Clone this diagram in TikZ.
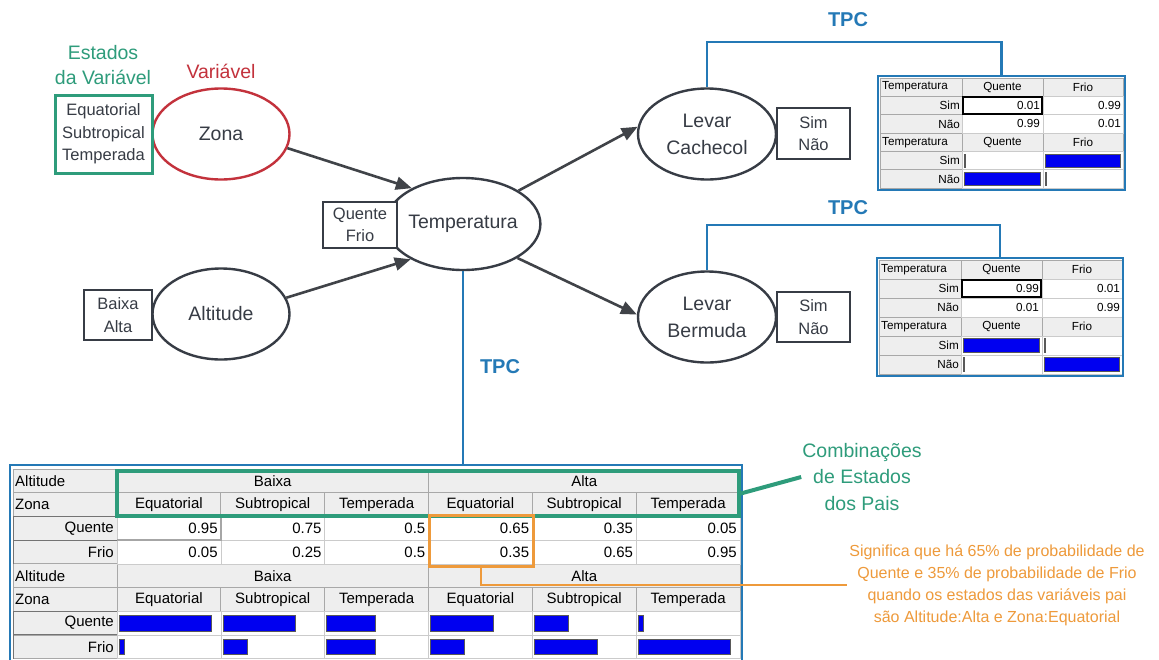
\documentclass[tikz,border=0pt]{standalone}
\usepackage{fontspec}
\setmainfont{Liberation Sans}
\usetikzlibrary{shapes.geometric,arrows.meta}

\definecolor{ink}{HTML}{373C45}
\definecolor{linkgray}{HTML}{404348}
\definecolor{tpcblue}{HTML}{2479B6}
\definecolor{stategreen}{HTML}{2E9C7B}
\definecolor{varred}{HTML}{C3323C}
\definecolor{noteorange}{HTML}{EE9A3B}
\definecolor{hdrgray}{HTML}{EEEEEE}
\definecolor{gridline}{HTML}{A8A8A8}
\definecolor{barblue}{HTML}{0000F0}

% Conditional probability table of a two-state child with parent Temperatura
\newcommand\cptable[8]{%
  \begin{scope}[shift={(#2,#3)}]
    \def\rh{#4}
    \foreach \r in {0,3}{
      \draw[hdr] (0,{\r*\rh}) rectangle (82,{(\r+1)*\rh});
      \draw[hdr] (82,{\r*\rh}) rectangle (163,{(\r+1)*\rh});
      \draw[hdr] (163,{\r*\rh}) rectangle (243,{(\r+1)*\rh});
      \node[tt,anchor=west] (#1-a\r) at (1,{(\r+.5)*\rh}) {Temperatura};
      \node[tt] (#1-b\r) at (122.5,{(\r+.5)*\rh}) {Quente};
      \node[tt] (#1-c\r) at (203,{(\r+.5)*\rh}) {Frio};
    }
    \foreach \r/\lab in {1/Sim,2/Não,4/Sim,5/Não}{
      \draw[hdr] (0,{\r*\rh}) rectangle (82,{(\r+1)*\rh});
      \node[tt,anchor=east] (#1-l\r) at (81,{(\r+.5)*\rh}) {\lab};
      \draw[cell] (82,{\r*\rh}) rectangle (163,{(\r+1)*\rh});
      \draw[cell] (163,{\r*\rh}) rectangle (243,{(\r+1)*\rh});
    }
    \node[tt,anchor=east] (#1-v1) at (161,{1.5*\rh}) {#5};
    \node[tt,anchor=east] (#1-v2) at (242,{1.5*\rh}) {#6};
    \node[tt,anchor=east] (#1-v3) at (161,{2.5*\rh}) {#7};
    \node[tt,anchor=east] (#1-v4) at (242,{2.5*\rh}) {#8};
    \draw[black, line width=1.8pt] (83,{\rh+0.9}) rectangle (162,{2*\rh-0.9});
    \draw[bar] (84,{4*\rh+2.5}) rectangle ({84+max(#5*77,1.2)},{5*\rh-2.5});
    \draw[bar] (165,{4*\rh+2.5}) rectangle ({165+max(#6*76,1.2)},{5*\rh-2.5});
    \draw[bar] (84,{5*\rh+2.5}) rectangle ({84+max(#7*77,1.2)},{6*\rh-2.5});
    \draw[bar] (165,{5*\rh+2.5}) rectangle ({165+max(#8*76,1.2)},{6*\rh-2.5});
  \end{scope}}

\begin{document}
\begin{tikzpicture}[x=1pt,y=-1pt,
  var/.style={ellipse, draw=ink, line width=2.4pt, inner sep=0pt,
    minimum width=137pt, minimum height=91pt, text=ink, align=center,
    font=\fontsize{19.5}{27}\selectfont},
  states/.style={draw=ink, line width=2.6pt, inner sep=0pt, fill=white,
    text=ink, align=center, font=\fontsize{16.5}{22.5}\selectfont},
  link/.style={draw=linkgray, line width=2.6pt,
    -{Triangle[length=16pt,width=13pt]}},
  tpc/.style={draw=tpcblue, line width=2.8pt},
  tpclabel/.style={text=tpcblue, font=\fontsize{20}{24}\selectfont\bfseries},
  hdr/.style={fill=hdrgray, draw=gridline, line width=0.8pt},
  cell/.style={fill=white, draw=gridline!60, line width=0.6pt},
  bar/.style={fill=barblue, draw=black!65, line width=0.5pt},
  tt/.style={inner sep=1pt, text=black, font=\fontsize{11.7}{13}\selectfont},
  bt/.style={inner sep=1pt, text=black, font=\fontsize{15}{17}\selectfont},
]
\useasboundingbox (0,0) rectangle (1159,659);
\fill[white] (0,0) rectangle (1159,659);

% ---- variables of the network ----
\node[var, draw=varred] (zona) at (221,134) {Zona};
\node[var] (alt) at (221,314) {Altitude};
\node[var, minimum width=134pt, minimum height=92pt] (temp) at (463,224) {Temperatura};
\node[var, minimum width=138pt] (cach) at (707,134) {Levar\\Cachecol};
\node[var, minimum width=138pt] (berm) at (707,317) {Levar\\Bermuda};

% ---- their states ----
\node[states, draw=stategreen, line width=3pt, minimum width=97pt, minimum height=78pt] (zst) at (103.5,134) {Equatorial\\Subtropical\\Temperada};
\node[states, minimum width=68pt, minimum height=50pt] (ast) at (118,315) {Baixa\\Alta};
\node[states, minimum width=74pt, minimum height=46pt] (tst) at (360,225) {Quente\\Frio};
\node[states, minimum width=73pt, minimum height=51pt] (cst) at (813.5,133.5) {Sim\\Não};
\node[states, minimum width=73pt, minimum height=50pt] (bst) at (813.5,317) {Sim\\Não};

% ---- captions ----
\node[text=stategreen, align=center, font=\fontsize{19.5}{25.5}\selectfont] (estados) at (103,65) {Estados\\da Variável};
\node[text=varred, font=\fontsize{19.5}{24}\selectfont] (varlab) at (221,71) {Variável};

% ---- dependencies ----
\draw[link] (zona.-12) -- (temp.145);
\draw[link] (alt.14) -- (temp.214);
\draw[link] (temp.31) -- (cach.174);
\draw[link] (temp.-32) -- (berm.178);

% ---- CPT of Levar Cachecol ----
\cptable{ca}{880}{78}{18.35}{0.01}{0.99}{0.99}{0.01}
\node[tpc, minimum width=247pt, minimum height=114pt, inner sep=0pt] (tab1) at (1001.5,133) {};
\node[tpclabel] (tpc1) at (848,20) {TPC};
\coordinate (turn1) at (848,42);
\draw[tpc] (cach.north) |- (turn1) -| (tab1.north);

% ---- CPT of Levar Bermuda ----
\cptable{be}{879}{260}{19}{0.99}{0.01}{0.01}{0.99}
\node[tpc, minimum width=246pt, minimum height=118pt, inner sep=0pt] (tab2) at (1000,317) {};
\node[tpclabel] (tpc2) at (848,208) {TPC};
\coordinate (turn2) at (848,225);
\draw[tpc] (berm.north) |- (turn2) -| (tab2.north);

% ---- CPT of Temperatura ----
\def\bh{23.7}
\def\cw{103.83}
\begin{scope}[shift={(13,469)}]
  \foreach \r in {0,4}{
    \draw[hdr] (0,{\r*\bh}) rectangle (104,{(\r+1)*\bh});
    \node[bt,anchor=west] (alt-h\r) at (1,{(\r+.5)*\bh}) {Altitude};
    \draw[hdr] (104,{\r*\bh}) rectangle (415.5,{(\r+1)*\bh});
    \node[bt] (baixa-h\r) at (259.75,{(\r+.5)*\bh}) {Baixa};
    \draw[hdr] (415.5,{\r*\bh}) rectangle (727,{(\r+1)*\bh});
    \node[bt] (alta-h\r) at (571.25,{(\r+.5)*\bh}) {Alta};
  }
  \foreach \r in {1,5}{
    \draw[hdr] (0,{\r*\bh}) rectangle (104,{(\r+1)*\bh});
    \node[bt,anchor=west] (zona-h\r) at (1,{(\r+.5)*\bh}) {Zona};
    \foreach \c/\z in {0/Equatorial,1/Subtropical,2/Temperada,3/Equatorial,4/Subtropical,5/Temperada}{
      \draw[hdr] ({104+\c*\cw},{\r*\bh}) rectangle ({104+(\c+1)*\cw},{(\r+1)*\bh});
      \node[bt] (z\r-\c) at ({104+(\c+.5)*\cw},{(\r+.5)*\bh}) {\z};
    }
  }
  \foreach \r/\lab in {2/Quente,3/Frio,6/Quente,7/Frio}{
    \draw[hdr] (0,{\r*\bh}) rectangle (104,{(\r+1)*\bh});
    \draw[black!55, line width=1pt] (0.5,{(\r+1)*\bh}) -- (0.5,{\r*\bh}) -- (104,{\r*\bh});
    \node[bt,anchor=east] (lab\r) at (102,{(\r+.5)*\bh}) {\lab};
  }
  \foreach \c/\q/\f in {0/0.95/0.05,1/0.75/0.25,2/0.5/0.5,3/0.65/0.35,4/0.35/0.65,5/0.05/0.95}{
    \foreach \r in {2,3,6,7}{
      \draw[cell] ({104+\c*\cw},{\r*\bh}) rectangle ({104+(\c+1)*\cw},{(\r+1)*\bh});
    }
    \node[bt,anchor=east] (q\c) at ({104+(\c+1)*\cw-2},{2.5*\bh}) {\q};
    \node[bt,anchor=east] (f\c) at ({104+(\c+1)*\cw-2},{3.5*\bh}) {\f};
    \draw[bar] ({106+\c*\cw},{6*\bh+4}) rectangle ({106+\c*\cw+\q*97},{7*\bh-4});
    \draw[bar] ({106+\c*\cw},{7*\bh+4}) rectangle ({106+\c*\cw+\f*97},{8*\bh-4});
  }
  \draw[gray!70, line width=1.6pt] (104,{3*\bh}) -- ({104+\cw},{3*\bh}) -- ({104+\cw},{2*\bh});
\end{scope}
\node[tpc, minimum width=732pt, minimum height=262pt, inner sep=0pt] (tab3) at (376,596) {};
\node[tpclabel] (tpc3) at (500,367) {TPC};
\draw[tpc] (temp.south) -- (temp.south |- tab3.north);

% ---- parent state combinations ----
\node[draw=stategreen, line width=3.5pt, minimum width=622pt, minimum height=45pt, inner sep=0pt] (parents) at (428,493.5) {};
\node[text=stategreen, align=center, inner sep=1pt, font=\fontsize{19.5}{26.5}\selectfont] (comb) at (862,477) {Combinações\\de Estados\\dos Pais};
\draw[stategreen, line width=4pt] (parents.east) -- (comb.west);

% ---- highlighted column ----
\node[draw=noteorange, line width=3pt, minimum width=104pt, minimum height=51pt, inner sep=0pt] (sel) at (481,540.5) {};
\node[text=noteorange, align=center, inner sep=2pt, font=\fontsize{16}{22}\selectfont] (note) at (997,585) {Significa que há 65\% de probabilidade de\\Quente e 35\% de probabilidade de Frio\\quando os estados das variáveis pai\\são Altitude:Alta e Zona:Equatorial};
\draw[noteorange, line width=2.8pt] (sel.south) |- (note.west);
\end{tikzpicture}
\end{document}
